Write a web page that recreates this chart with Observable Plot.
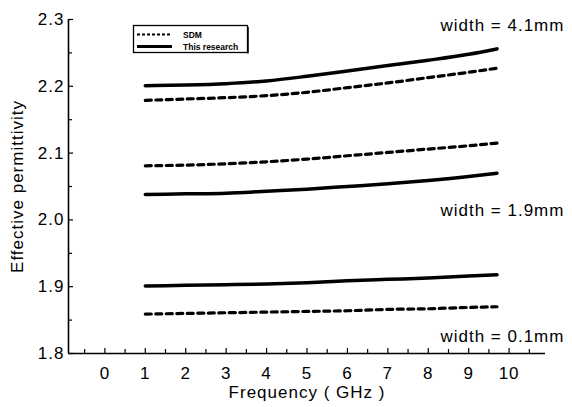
<!DOCTYPE html>
<html>
<head>
<meta charset="utf-8">
<script src="https://cdn.jsdelivr.net/npm/d3@7"></script>
<script src="https://cdn.jsdelivr.net/npm/@observablehq/plot@0.6"></script>
<style>
  body { margin: 0; background: #fff; }
  #wrap { position: relative; width: 572px; height: 407px; }
  #legend { position: absolute; left: 132px; top: 24px; }
</style>
</head>
<body>
<div id="wrap"></div>
<script>
// Frequencies (GHz) at which the curves are read
const freq = [1, 2, 3, 4, 5, 6, 7, 8, 9, 9.7];
// Effective permittivity, "This research" (solid) and SDM (dotted)
const research41 = [2.201, 2.202, 2.204, 2.208, 2.215, 2.223, 2.231, 2.239, 2.248, 2.256];
const sdm41      = [2.179, 2.181, 2.183, 2.186, 2.191, 2.198, 2.205, 2.213, 2.221, 2.227];
const sdm19      = [2.081, 2.082, 2.084, 2.087, 2.091, 2.096, 2.101, 2.106, 2.111, 2.115];
const research19 = [2.038, 2.039, 2.040, 2.043, 2.046, 2.050, 2.054, 2.059, 2.065, 2.070];
const research01 = [1.901, 1.902, 1.903, 1.904, 1.906, 1.909, 1.911, 1.913, 1.916, 1.918];
const sdm01      = [1.859, 1.860, 1.861, 1.862, 1.863, 1.864, 1.866, 1.867, 1.869, 1.870];

const xTicks = [0, 1, 2, 3, 4, 5, 6, 7, 8, 9, 10];
const xMinorTicks = [-0.5, 0.5, 1.5, 2.5, 3.5, 4.5, 5.5, 6.5, 7.5, 8.5, 9.5, 10.5];
const yTicks = [1.8, 1.9, 2.0, 2.1, 2.2, 2.3];
const yMinorTicks = [1.85, 1.95, 2.05, 2.15, 2.25];

const annotText = ["width = 4.1mm", "width = 1.9mm", "width = 0.1mm"];
const annotX = [8.3, 8.3, 8.3];
const annotY = [2.291, 2.014, 1.825];

const legendNames = ["SDM", "This research"];

const xDomain = [-0.9, 10.9];
const yDomain = [1.8, 2.3];
// inward tick lengths expressed in data units (≈5px and ≈4px)
const xTickLen = 0.0075, xMinorLen = 0.006;
const yTickLen = 0.125, yMinorLen = 0.1;

const toRows = (vals, name) => freq.map((f, i) => ({f, v: vals[i], s: name}));
const solidSeries = [research41, research19, research01].map((v, k) => toRows(v, "r" + k));
const dottedSeries = [sdm41, sdm19, sdm01].map((v, k) => toRows(v, "s" + k));
const annots = annotText.map((t, i) => ({t, x: annotX[i], y: annotY[i]}));

const chart = Plot.plot({
  width: 572,
  height: 407,
  marginLeft: 68,
  marginRight: 27,
  marginTop: 19,
  marginBottom: 54,
  x: {domain: xDomain},
  y: {domain: yDomain},
  style: {fontFamily: "'Liberation Sans', Arial, sans-serif", fontSize: "17px", color: "#000", background: "#fff", letterSpacing: "1px"},
  marks: [
    Plot.ruleX(xMinorTicks, {y1: yDomain[0], y2: yDomain[0] + xMinorLen, stroke: "#000", strokeWidth: 1.2}),
    Plot.ruleX(xTicks, {y1: yDomain[0], y2: yDomain[0] + xTickLen, stroke: "#000", strokeWidth: 1.2}),
    Plot.ruleY(yMinorTicks, {x1: xDomain[0], x2: xDomain[0] + yMinorLen, stroke: "#000", strokeWidth: 1.2}),
    Plot.ruleY(yTicks, {x1: xDomain[0], x2: xDomain[0] + yTickLen, stroke: "#000", strokeWidth: 1.2}),
    Plot.axisX({ticks: xTicks, tickSize: 0, tickPadding: 13, tickFormat: d => String(d),
      label: "Frequency ( GHz )", labelAnchor: "center", labelArrow: "none", labelOffset: 44}),
    Plot.axisY({ticks: yTicks, tickSize: 0, tickPadding: 4, tickFormat: d3.format(".1f"),
      label: "Effective permittivity", labelAnchor: "center", labelArrow: "none", labelOffset: 58}),
    Plot.ruleY([yDomain[0]], {stroke: "#000", strokeWidth: 1.6}),
    Plot.ruleX([xDomain[0]], {stroke: "#000", strokeWidth: 1.6}),
    ...solidSeries.map(d => Plot.line(d, {x: "f", y: "v", stroke: "#000", strokeWidth: 3.5, curve: "monotone-x"})),
    ...dottedSeries.map(d => Plot.line(d, {x: "f", y: "v", stroke: "#000", strokeWidth: 3.2, strokeDasharray: "6,4.5", curve: "monotone-x"})),
    Plot.text(annots, {x: "x", y: "y", text: "t", textAnchor: "start", fill: "#000", fontSize: 17, clip: false})
  ]
});
document.getElementById("wrap").appendChild(chart);

// Legend box (inset, top-left of plot)
const leg = d3.select("#wrap").append("svg")
  .attr("id", "legend").attr("width", 120).attr("height", 32);
leg.append("rect").attr("x", 1.5).attr("y", 1.5).attr("width", 114).attr("height", 27)
  .attr("fill", "#fff").attr("stroke", "#000").attr("stroke-width", 1.3);
leg.append("line").attr("x1", 116).attr("y1", 3).attr("x2", 116).attr("y2", 29.5)
  .attr("stroke", "#000").attr("stroke-width", 1.5);
leg.append("line").attr("x1", 5).attr("x2", 40).attr("y1", 10.5).attr("y2", 10.5)
  .attr("stroke", "#000").attr("stroke-width", 2).attr("stroke-dasharray", "3,2");
leg.append("line").attr("x1", 5).attr("x2", 40).attr("y1", 22.5).attr("y2", 22.5)
  .attr("stroke", "#000").attr("stroke-width", 3);
legendNames.forEach((n, i) => {
  leg.append("text").attr("x", 51).attr("y", 13.5 + i * 12).text(n)
    .attr("font-family", "'Liberation Sans', Arial, sans-serif").attr("font-size", 8.5)
    .attr("font-weight", "bold").attr("fill", "#000");
});
</script>
</body>
</html>
